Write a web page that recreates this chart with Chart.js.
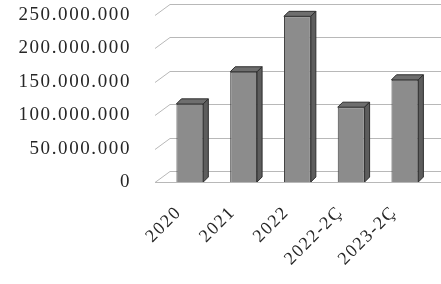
<!DOCTYPE html>
<html>
<head>
<meta charset="utf-8">
<script src="https://cdn.jsdelivr.net/npm/chart.js@4"></script>
<style>
  html, body { margin: 0; padding: 0; background: #fff; }
  #wrap { width: 441px; height: 284px; }
</style>
</head>
<body>
<div id="wrap"><canvas id="yearChart" width="441" height="284"></canvas></div>
<script>
const years = ['2020', '2021', '2022', '2022-2Ç', '2023-2Ç'];
const amounts = [117000000, 165000000, 248000000, 112000000, 153000000];
const yTicks = [0, 50000000, 100000000, 150000000, 200000000, 250000000];

// dotted thousands, e.g. 250.000.000
function fmt(v) {
    return String(v).replace(/\B(?=(\d{3})+(?!\d))/g, '.');
}

// back wall gridlines + simple 3d faces on the bars
const depthX = 5, depthY = 5;
const wallX = 15, wallY = 11;

const pseudo3d = {
    id: 'pseudo3d',
    beforeLayout(chart) { chart.ctx.letterSpacing = '1.6px'; },
    beforeDraw(chart) { chart.ctx.letterSpacing = '1.6px'; },
    beforeDatasetsDraw(chart) {
        const ctx = chart.ctx;
        const ys = chart.scales.y;
        const left = chart.chartArea.left - 8;
        ctx.save();
        ctx.strokeStyle = '#b8b8b8';
        ctx.lineWidth = 1;
        yTicks.forEach(function (t) {
            const y = Math.round(ys.getPixelForValue(t)) + 0.5;
            ctx.beginPath();
            ctx.moveTo(left, y);
            ctx.lineTo(left + wallX, y - wallY);
            ctx.lineTo(chart.width, y - wallY);
            ctx.stroke();
        });
        // floor front edge
        const y0 = Math.round(ys.getPixelForValue(0)) + 0.5;
        ctx.beginPath();
        ctx.moveTo(left, y0);
        ctx.lineTo(chart.width, y0);
        ctx.stroke();
        ctx.restore();
    },
    afterDatasetsDraw(chart) {
        const ctx = chart.ctx;
        const bars = chart.getDatasetMeta(0).data;
        ctx.save();
        ctx.strokeStyle = '#2e2e2e';
        ctx.lineWidth = 1;
        bars.forEach(function (b) {
            const l = b.x - b.width / 2, r = b.x + b.width / 2;
            // top
            ctx.beginPath();
            ctx.moveTo(l, b.y);
            ctx.lineTo(l + depthX, b.y - depthY);
            ctx.lineTo(r + depthX, b.y - depthY);
            ctx.lineTo(r, b.y);
            ctx.closePath();
            ctx.fillStyle = '#6e6e6e';
            ctx.fill();
            ctx.stroke();
            // side
            ctx.beginPath();
            ctx.moveTo(r, b.y);
            ctx.lineTo(r + depthX, b.y - depthY);
            ctx.lineTo(r + depthX, b.base - depthY);
            ctx.lineTo(r, b.base);
            ctx.closePath();
            ctx.fillStyle = '#5d5d5d';
            ctx.fill();
            ctx.stroke();
        });
        ctx.restore();
    }
};

new Chart(document.getElementById('yearChart'), {
    type: 'bar',
    data: {
        labels: years,
        datasets: [{
            data: amounts,
            backgroundColor: '#8c8c8c',
            borderColor: '#3a3a3a',
            borderWidth: 1,
            barPercentage: 0.5,
            categoryPercentage: 1
        }]
    },
    options: {
        responsive: false,
        animation: false,
        layout: {
            padding: { top: 0, right: 8, left: 0, bottom: 0 }
        },
        plugins: {
            legend: { display: false },
            tooltip: { enabled: false }
        },
        scales: {
            y: {
                min: 0,
                max: 250000000,
                afterBuildTicks: function (scale) {
                    scale.ticks = yTicks.map(function (v) { return { value: v }; });
                },
                afterFit: function (scale) {
                    scale.width = 163;
                    // tick padding would otherwise push the plot top down
                    scale.paddingTop = 15;
                },
                grid: { display: false, drawTicks: false },
                border: { display: false },
                ticks: {
                    padding: 32,
                    color: '#262626',
                    font: { family: 'Liberation Serif', size: 19 },
                    callback: function (v) { return fmt(v); }
                }
            },
            x: {
                afterFit: function (scale) { scale.height = 102; },
                grid: { display: false, drawTicks: false },
                border: { display: false },
                ticks: {
                    padding: 20,
                    labelOffset: -11,
                    minRotation: 45,
                    maxRotation: 45,
                    color: '#262626',
                    font: { family: 'Liberation Serif', size: 18 }
                }
            }
        }
    },
    plugins: [pseudo3d]
});
</script>
</body>
</html>
